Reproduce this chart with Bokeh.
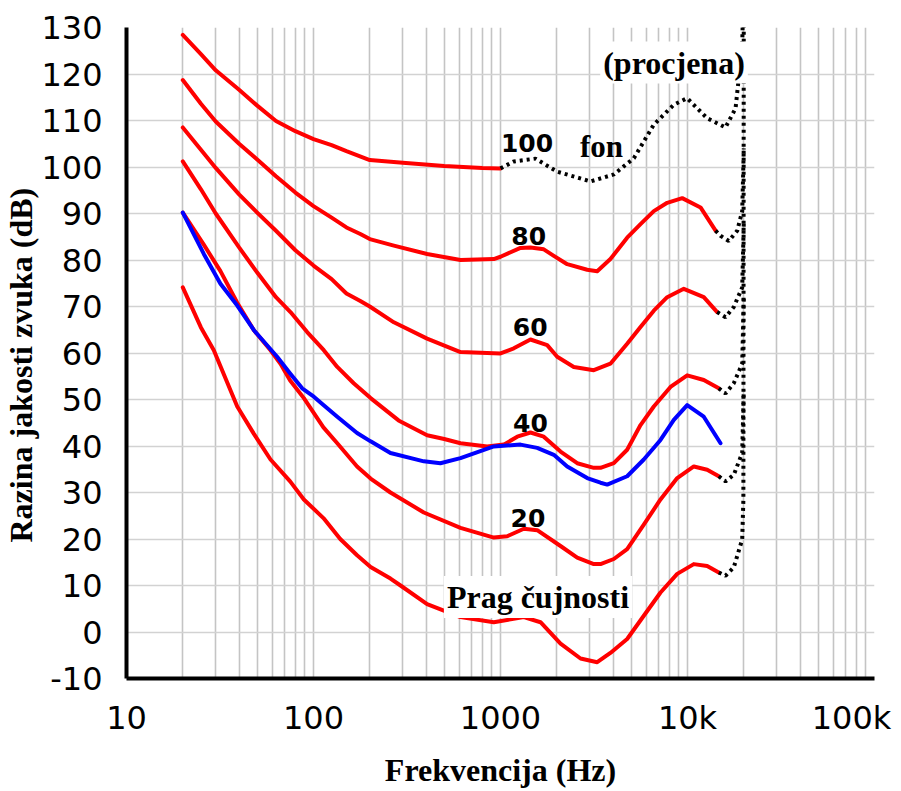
from bokeh.plotting import figure
from bokeh.models import Range1d, FixedTicker, Label, BasicTickFormatter, Title
from bokeh.embed import file_html
from bokeh.resources import INLINE

# ---------------- axes / ticks ----------------
x_major = [10, 100, 1000, 10000, 100000]
x_minor = [m * d for d in (10, 100, 1000, 10000) for m in range(2, 10)]
x_tick_labels = {10: "10", 100: "100", 1000: "1000", 10000: "10k",
                 100000: "100k\u00a0"}
y_ticks = list(range(-10, 131, 10))
y_tick_labels = {t: str(t) for t in y_ticks}
x_title = "Frekvencija (Hz)"
y_title = "Razina jakosti zvuka (dB)"

# ---------------- equal-loudness contours (Hz, dB) ----------------
c100_f = [20, 25, 30, 40, 50, 63, 80, 100, 125, 150, 200, 300, 500, 800, 1000]
c100_db = [128.4, 124.3, 120.8, 116.6, 113.2, 109.9, 107.7, 106.0, 104.7, 103.4,
           101.5, 100.9, 100.2, 99.8, 99.7]
c100_est_f = [1000, 1178, 1538, 2010, 3027, 4037, 5166, 6604, 8451, 9950, 12730,
              15960, 18070, 18800, 19600, 20000]
c100_est_db = [99.7, 101.2, 101.8, 99.0, 96.9, 98.4, 101.9, 109.1, 113.4, 114.8,
               110.5, 108.5, 112.6, 119.1, 126.0, 140.0]

c80_f = [20, 25, 30, 40, 50, 63, 80, 100, 125, 150, 178, 200, 269, 405, 611, 921,
         1000, 1279, 1446, 1704, 1928, 2274, 2908, 3290, 3870, 4757, 5607, 6604,
         7786, 9370, 11740, 14130]
c80_db = [118.7, 113.6, 109.8, 105.0, 101.6, 98.0, 94.5, 91.6, 89.1, 87.0, 85.6,
          84.5, 83.1, 81.3, 80.0, 80.2, 80.7, 82.6, 82.7, 82.3, 80.9, 79.1, 77.9,
          77.6, 80.2, 84.8, 87.7, 90.5, 92.3, 93.3, 91.3, 86.3]
c80_est_f = [14130, 15020, 16630, 18450, 19610, 20000]
c80_est_db = [86.3, 85.2, 84.1, 86.3, 90.5, 104.0]

c60_f = [20, 25, 30, 40, 50, 63, 80, 100, 125, 150, 178, 200, 269, 405, 611, 1000,
         1178, 1446, 1777, 2010, 2466, 3155, 3870, 4757, 5607, 6604, 7786, 9555,
         12220, 14410]
c60_db = [108.5, 103.7, 99.8, 94.1, 90.2, 86.3, 82.1, 78.8, 75.9, 72.8, 71.2, 70.0,
          66.6, 63.1, 60.2, 59.9, 61.0, 62.9, 61.7, 59.2, 57.0, 56.3, 57.7, 62.0,
          65.6, 69.1, 72.0, 73.8, 72.0, 68.8]
c60_est_f = [14410, 15970, 17680, 19610, 20000]
c60_est_db = [68.8, 67.7, 69.9, 74.1, 88.0]

c40_f = [20, 25, 30, 40, 50, 63, 75.3, 92.5, 113.5, 134, 164, 202, 285, 405, 500,
         611, 849, 1041, 1229, 1446, 1704, 2094, 2572, 3155, 3426, 4036, 4757,
         5607, 6604, 8110, 9963, 12220, 14700]
c40_db = [101.2, 95.2, 90.0, 82.7, 77.3, 72.0, 68.8, 64.5, 60.6, 57.0, 53.5, 50.3,
          45.5, 42.3, 41.5, 40.6, 39.9, 40.3, 42.0, 42.9, 42.0, 38.8, 36.3, 35.3,
          35.3, 36.3, 39.2, 44.5, 48.5, 52.7, 55.2, 54.2, 52.4]
c40_est_f = [14700, 15970, 17680, 19610, 20000]
c40_est_db = [52.4, 51.3, 53.5, 57.7, 72.0]

c20_f = [20, 25.9, 31.8, 39.1, 48, 58.9, 66.6, 75, 88.8, 113, 134, 171, 202, 258,
         389, 611, 921, 1086, 1333, 1571, 2094, 2572, 3155, 3426, 4036, 4757, 5838,
         7172, 8810, 10810, 12740, 14700]
c20_db = [90.2, 83.3, 77.6, 70.8, 64.9, 60.6, 57.7, 54.1, 50.3, 44.0, 40.6, 35.6,
          33.0, 30.0, 25.7, 22.4, 20.3, 20.6, 22.2, 21.9, 18.5, 16.0, 14.6, 14.6,
          15.7, 17.8, 23.1, 28.5, 33.1, 35.6, 34.9, 33.5]
c20_est_f = [14700, 15970, 17680, 19610, 20000]
c20_est_db = [33.5, 32.4, 33.8, 38.5, 52.0]

prag_f = [20, 25, 29.3, 39.1, 48, 58.9, 75, 88.8, 113, 139, 171, 202, 258, 292, 405,
          611, 921, 1333, 1637, 2094, 2679, 3290, 3870, 4757, 5838, 7172, 8810,
          10810, 12740, 14700]
prag_db = [74.1, 65.5, 60.6, 48.5, 42.6, 37.1, 32.4, 28.5, 24.5, 20.0, 16.5, 14.0,
           11.5, 10.0, 6.0, 3.2, 2.1, 3.2, 2.1, -2.5, -5.7, -6.5, -4.5, -1.5, 3.5,
           8.5, 12.5, 14.6, 14.2, 12.8]
prag_est_f = [14700, 15970, 17680, 19610, 19900, 20000]
prag_est_db = [12.8, 12.1, 13.9, 19.9, 28.5, 140.0]

blue_f = [20, 25.9, 31.8, 39.1, 48, 63.9, 75, 87, 100.4, 113, 134, 171, 202, 258,
          389, 477, 611, 921, 1279, 1571, 1928, 2274, 2908, 3426, 3721, 4757, 5838,
          7172, 8450, 9963, 12220, 15020]
blue_db = [90.2, 81.3, 74.9, 70.2, 64.9, 59.2, 55.6, 52.4, 50.6, 48.8, 46.3, 42.8,
           41.0, 38.5, 36.7, 36.3, 37.4, 39.9, 40.3, 39.6, 38.1, 35.6, 33.1, 32.1,
           31.7, 33.5, 37.1, 41.3, 45.6, 48.8, 46.3, 40.6]

# ---------------- figure ----------------
p = figure(width=901, height=791, x_axis_type="log",
           x_range=Range1d(10, 100000), y_range=Range1d(-10, 130),
           output_backend="svg", toolbar_location=None,
           min_border_left=126, min_border_right=27, min_border_top=27,
           min_border_bottom=113)
p.outline_line_color = None
p.background_fill_color = "white"
p.border_fill_color = "white"

p.xaxis.ticker = FixedTicker(ticks=x_major, minor_ticks=x_minor)
p.xaxis.formatter = BasicTickFormatter(use_scientific=False)
p.xaxis.major_label_overrides = x_tick_labels
p.yaxis.ticker = FixedTicker(ticks=y_ticks)
p.yaxis.major_label_overrides = y_tick_labels

p.xgrid.grid_line_color = "#c4c4c4"
p.xgrid.grid_line_width = 1.6
p.xgrid.minor_grid_line_color = "#c4c4c4"
p.xgrid.minor_grid_line_width = 1.6
p.ygrid.grid_line_color = "#d2d2d2"
p.ygrid.grid_line_width = 1.6

for ax in (p.xaxis, p.yaxis):
    ax.axis_line_color = "black"
    ax.axis_line_width = 4
    ax.major_tick_line_color = None
    ax.minor_tick_line_color = None
    ax.major_tick_out = 0
    ax.major_tick_in = 0
    ax.major_label_text_font = "DejaVu Sans"
    ax.major_label_text_font_size = "32px"
    ax.major_label_text_color = "black"
    ax.axis_label_text_font = "Liberation Serif"
    ax.axis_label_text_font_style = "bold"
    ax.axis_label_text_font_size = "32px"
    ax.axis_label_text_color = "black"

p.xaxis.major_label_standoff = 16
p.xaxis.axis_label = x_title
p.xaxis.axis_label_standoff = 12
p.yaxis.major_label_standoff = 24

p.add_layout(Title(text=y_title, align="left", offset=136, standoff=0,
                   vertical_align="bottom", text_font="Liberation Serif",
                   text_font_size="32px", text_font_style="bold",
                   text_color="black"), "left")

RED = "#ff0000"
for f, db in ((c100_f, c100_db), (c80_f, c80_db), (c60_f, c60_db),
              (c40_f, c40_db), (c20_f, c20_db), (prag_f, prag_db)):
    p.line(f, db, line_color=RED, line_width=4, line_join="round", line_cap="round")

for f, db in ((c100_est_f, c100_est_db), (c80_est_f, c80_est_db),
              (c60_est_f, c60_est_db), (c40_est_f, c40_est_db),
              (c20_est_f, c20_est_db), (prag_est_f, prag_est_db)):
    p.line(f, db, line_color="black", line_width=4, line_dash="3 4")

p.line(blue_f, blue_db, line_color="#0000ff", line_width=4, line_join="round",
       line_cap="round")

def add_label(x, y, text, font, size, bg=None):
    lab = Label(x=x, y=y, text=text, text_font=font, text_font_size=size,
                text_font_style="bold", text_align="center",
                text_baseline="alphabetic", text_color="black", y_offset=10)
    if bg is not None:
        lab.background_fill_color = bg
        lab.padding = 3
    p.add_layout(lab)

add_label(1387, 103.0, "100", "DejaVu Sans", "25px")
add_label(1416, 83.0, "80", "DejaVu Sans", "25px")
add_label(1442, 63.4, "60", "DejaVu Sans", "25px")
add_label(1445, 42.9, "40", "DejaVu Sans", "25px")
add_label(1403, 22.4, "20", "DejaVu Sans", "25px")
add_label(3467, 102.3, "fon", "Liberation Serif", "31px")
add_label(8470, 120.3, "(procjena)", "Liberation Serif", "32px", bg="white")
add_label(1587, 5.4, "Prag čujnosti", "Liberation Serif", "32px", bg="white")

open("out.html", "w").write(file_html(p, INLINE))
